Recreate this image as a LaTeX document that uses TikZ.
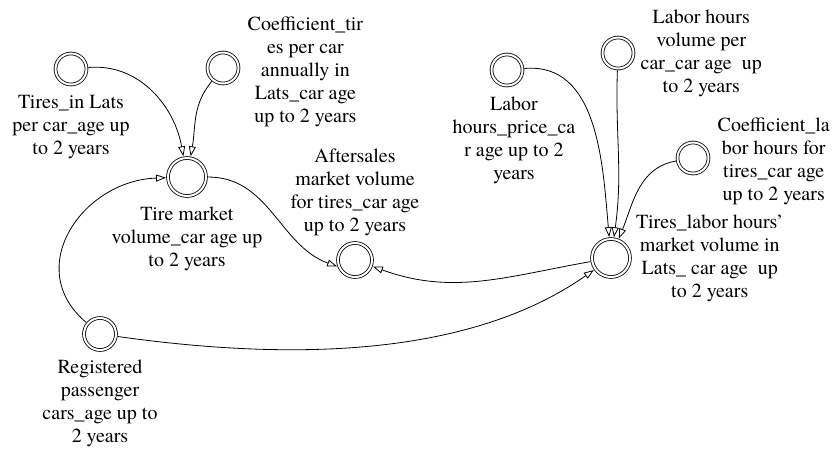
\documentclass[tikz,border=0pt]{standalone}
\usepackage{fontspec}
\setmainfont{texgyretermes}[Extension=.otf,UprightFont=*-regular]
\usepackage{tikz}
\usetikzlibrary{arrows.meta}

\begin{document}
\begin{tikzpicture}
[x=1pt,y=1pt,
aux/.style={circle,draw,double,double distance=2pt,line width=0.8pt,minimum size=31pt,inner sep=0pt,outer sep=2pt},
hub/.style={aux,minimum size=38pt},
lbl/.style={font=\fontsize{20}{23}\selectfont,align=center,inner sep=1pt},
arr/.style={line width=0.8pt,-{Triangle[open,length=10pt,width=7pt]}}]
\useasboundingbox (0,0) rectangle (840,-448);
\node[aux,label={[lbl,label distance=8pt]below:{Tires\_in Lats\\per car\_age up\\to 2 years}}] (tires) at (71,-69) {};
\node[aux,label={[lbl,label distance=6pt,yshift=-4pt]right:{Coefficient\_tir\\es per car\\annually in\\Lats\_car age\\up to 2 years}}] (coef) at (223,-68) {};
\node[hub,label={[lbl,label distance=8pt]below:{Tire market\\volume\_car age up\\to 2 years}}] (tiremkt) at (187,-177) {};
\node[aux,minimum size=34pt,label={[lbl,label distance=4pt]above:{Aftersales\\market volume\\for tires\_car age\\up to 2 years}}] (after) at (355,-260) {};
\node[aux,label={[lbl,label distance=8pt,xshift=7pt]below:{Labor\\hours\_price\_ca\\r age up to 2\\years}}] (price) at (507,-70) {};
\node[aux,label={[lbl,label distance=4pt]right:{Labor hours\\volume per\\car\_car age\ \ up\\to 2 years}}] (volume) at (618,-53) {};
\node[aux,label={[lbl,label distance=6pt,yshift=-3pt]right:{Coefficient\_la\\bor hours for\\tires\_car age\\up to 2 years}}] (coeflab) at (693,-158) {};
\node[hub,label={[lbl,label distance=3pt]right:{Tires\_labor hours'\\market volume in\\Lats\_ car age\ \ up\\to 2 years}}] (labmkt) at (611,-258) {};
\node[aux,minimum size=32pt,label={[lbl,label distance=7pt]below:{Registered\\passenger\\cars\_age up to\\2 years}}] (cars) at (100,-334) {};
\path[arr] (tires) edge[out=5,in=100] (tiremkt)
(coef) edge[out=230,in=80] (tiremkt)
(cars) edge[out=140,in=182,looseness=1.3] (tiremkt)
(tiremkt) edge[out=0,in=160] (after.200)
(labmkt) edge[out=190,in=-20] (after)
(price) edge[out=5,in=95] (labmkt)
(volume) edge[out=268,in=82] (labmkt)
(coeflab) edge[out=190,in=68] (labmkt)
(cars) edge[out=-8,in=215,looseness=0.85] (labmkt);
\end{tikzpicture}
\end{document}
